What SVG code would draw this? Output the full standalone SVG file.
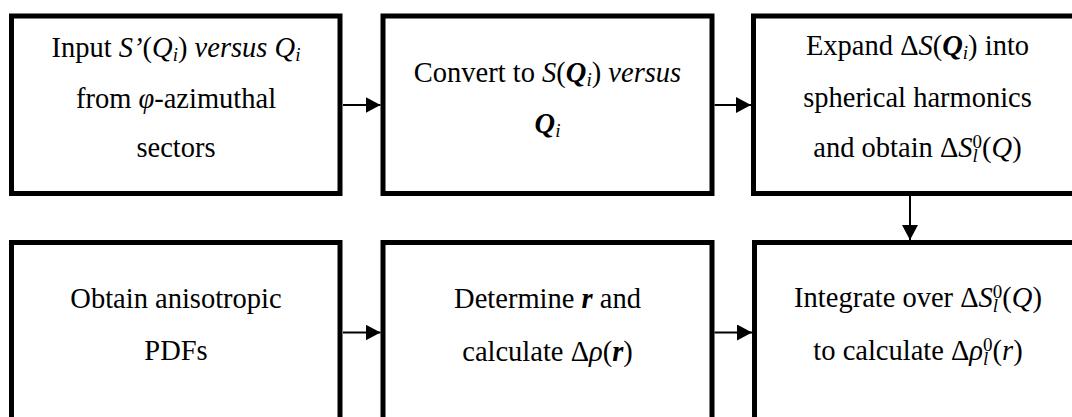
<svg xmlns="http://www.w3.org/2000/svg" width="1072" height="417" viewBox="0 0 1072 417">
  <style>
    .box { fill: #ffffff; stroke: #000000; stroke-width: 5; }
    .lbl { font-size: 28.5px; fill: #000000; text-anchor: middle; }
    .it { font-style: italic; }
    .bi { font-style: italic; font-weight: bold; }
    .sc { font-size: 19px; font-style: italic; }
    .up { font-style: normal; }
    .conn { stroke: #000000; stroke-width: 2; fill: none; marker-end: url(#arrow); }
  </style>
  <defs>
    <marker id="arrow" markerUnits="userSpaceOnUse" markerWidth="15" markerHeight="16" refX="15" refY="8" orient="auto">
      <path d="M0,0 L15,8 L0,16 Z" fill="#000000"/>
    </marker>
  </defs>
  <rect width="1072" height="417" fill="#ffffff"/>

  <g id="node-input">
    <rect class="box" x="11.5" y="16" width="328.5" height="177.5"/>
    <text class="lbl" style="font-family:'Liberation Serif'" x="176" y="57">Input <tspan class="it">S&#8217;</tspan>(<tspan class="it">Q</tspan><tspan class="sc" dy="4">i</tspan><tspan dy="-4">) </tspan><tspan class="it">versus Q</tspan><tspan class="sc" dy="4">i</tspan></text>
    <text class="lbl" style="font-family:'Liberation Serif'" x="176" y="108">from <tspan class="it">&#966;</tspan>-azimuthal</text>
    <text class="lbl" style="font-family:'Liberation Serif'" x="176" y="157">sectors</text>
  </g>

  <g id="node-convert">
    <rect class="box" x="383" y="16" width="329" height="177.5"/>
    <text class="lbl" style="font-family:'Liberation Serif'" x="547.5" y="82">Convert to <tspan class="it">S</tspan>(<tspan class="bi">Q</tspan><tspan class="sc" dy="4">i</tspan><tspan dy="-4">) </tspan><tspan class="it">versus</tspan></text>
    <text class="lbl" style="font-family:'Liberation Serif'" x="547.5" y="133"><tspan class="bi">Q</tspan><tspan class="sc" dy="4">i</tspan></text>
  </g>

  <g id="node-expand">
    <rect class="box" x="753.5" y="16" width="328" height="177.5"/>
    <text class="lbl" style="font-family:'Liberation Serif'" x="917.5" y="55">Expand &#916;<tspan class="it">S</tspan>(<tspan class="bi">Q</tspan><tspan class="sc" dy="4">i</tspan><tspan dy="-4">) into</tspan></text>
    <text class="lbl" style="font-family:'Liberation Serif'" x="917.5" y="107">spherical harmonics</text>
    <text class="lbl" style="font-family:'Liberation Serif'" x="917.5" y="157">and obtain &#916;<tspan class="it">S</tspan><tspan class="sc" dy="5">l</tspan><tspan class="sc up" dx="-5.3" dy="-14">0</tspan><tspan dy="9">(</tspan><tspan class="it">Q</tspan>)</text>
  </g>

  <g id="node-obtain">
    <rect class="box" x="11.5" y="242.5" width="328.5" height="180"/>
    <text class="lbl" style="font-family:'Liberation Serif'" x="176" y="308">Obtain anisotropic</text>
    <text class="lbl" style="font-family:'Liberation Serif'" x="176" y="360">PDFs</text>
  </g>

  <g id="node-determine">
    <rect class="box" x="383" y="242.5" width="329" height="180"/>
    <text class="lbl" style="font-family:'Liberation Serif'" x="547.5" y="308">Determine <tspan class="bi">r</tspan> and</text>
    <text class="lbl" style="font-family:'Liberation Serif'" x="547.5" y="361">calculate &#916;<tspan class="it">&#961;</tspan>(<tspan class="bi">r</tspan>)</text>
  </g>

  <g id="node-integrate">
    <rect class="box" x="754.5" y="242.5" width="327" height="180"/>
    <text class="lbl" style="font-family:'Liberation Serif'" x="918" y="307">Integrate over &#916;<tspan class="it">S</tspan><tspan class="sc" dy="5">l</tspan><tspan class="sc up" dx="-5.3" dy="-14">0</tspan><tspan dy="9">(</tspan><tspan class="it">Q</tspan>)</text>
    <text class="lbl" style="font-family:'Liberation Serif'" x="918" y="360">to calculate &#916;<tspan class="it">&#961;</tspan><tspan class="sc" dy="5">l</tspan><tspan class="sc up" dx="-5.3" dy="-14">0</tspan><tspan dy="9">(</tspan><tspan class="it">r</tspan>)</text>
  </g>

  <g id="connectors">
    <line class="conn" x1="343" y1="105" x2="380.5" y2="105"/>
    <line class="conn" x1="714.5" y1="105" x2="751" y2="105"/>
    <line class="conn" x1="910" y1="196" x2="910" y2="240"/>
    <line class="conn" x1="343" y1="332.5" x2="380.5" y2="332.5"/>
    <line class="conn" x1="714.5" y1="332.5" x2="752" y2="332.5"/>
  </g>
</svg>
